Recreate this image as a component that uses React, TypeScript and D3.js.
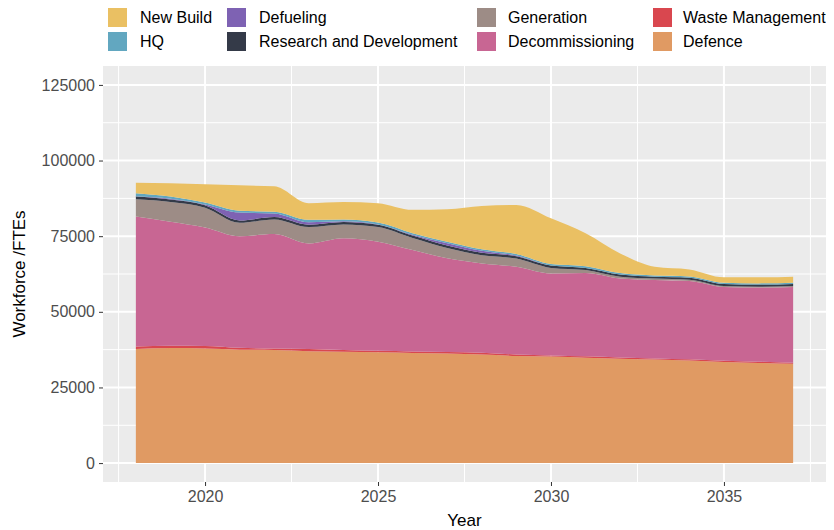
import * as d3 from 'd3';
import { useEffect, useRef } from 'react';

const years = [
  2018, 2019, 2020, 2021, 2022, 2023, 2024, 2025, 2026, 2027,
  2028, 2029, 2030, 2031, 2032, 2033, 2034, 2035, 2036, 2037,
];

// values in FTEs
const defence = [
  37700, 38000, 37900, 37500, 37400, 37000, 36800, 36600, 36400, 36200,
  35900, 35400, 35200, 34800, 34500, 34200, 33900, 33400, 33100, 32800,
];
const wasteManagement = [
  800, 800, 800, 600, 500, 700, 600, 500, 500, 500,
  600, 500, 400, 500, 400, 400, 400, 400, 400, 400,
];
const decommissioning = [
  43000, 41000, 39200, 36900, 37800, 34900, 36900, 36100, 33500, 31000,
  29500, 29000, 27100, 27500, 26100, 25900, 25900, 24400, 24500, 25000,
];
const generation = [
  5700, 6500, 6500, 4400, 4800, 5400, 4600, 4800, 4000, 3400,
  2700, 2700, 1800, 1000, 600, 500, 400, 300, 300, 300,
];
const researchDev = [
  900, 800, 800, 800, 800, 800, 800, 800, 800, 800,
  800, 800, 800, 700, 700, 600, 700, 700, 700, 700,
];
const defueling = [
  100, 300, 300, 2600, 1200, 800, 200, 100, 300, 800,
  700, 200, 0, 0, 0, 0, 0, 0, 0, 0,
];
const hq = [
  1000, 700, 600, 600, 600, 800, 600, 600, 500, 500,
  500, 500, 500, 600, 500, 400, 400, 400, 400, 400,
];
const newBuild = [
  3500, 4400, 6100, 8400, 8400, 5500, 5800, 6400, 7700, 10700,
  14300, 16200, 15100, 10900, 6500, 2900, 2300, 1800, 2000, 2000,
];

const seriesNames = [
  'Defence',
  'Waste Management',
  'Decommissioning',
  'Generation',
  'Research and Development',
  'Defueling',
  'HQ',
  'New Build',
];
const seriesValues = [
  defence, wasteManagement, decommissioning, generation,
  researchDev, defueling, hq, newBuild,
];
const seriesColors = [
  '#E09A63', '#D9474F', '#C86693', '#9D8C86',
  '#343A48', '#7E62B3', '#62A7C0', '#EAC063',
];

const yTicks = [0, 25000, 50000, 75000, 100000, 125000];
const xTicks = [2020, 2025, 2030, 2035];

// legend: columns of two, top of stack first
const legendOrder = [
  'New Build', 'HQ', 'Defueling', 'Research and Development',
  'Generation', 'Decommissioning', 'Waste Management', 'Defence',
];

const dims = {
  width: 834,
  height: 530,
  left: 103,
  right: 826,
  top: 66,
  bottom: 482,
};

export default function App() {
  const svgRef = useRef(null);

  useEffect(() => {
    const svg = d3.select(svgRef.current);
    svg.selectAll('*').remove();

    const font = 'Liberation Sans, Arial, Helvetica, sans-serif';

    const xScale = d3
      .scaleLinear()
      .domain([2018 - 0.95, 2037 + 0.95])
      .range([dims.left, dims.right]);

    const yScale = d3
      .scaleLinear()
      .domain([-6250, 131250])
      .range([dims.bottom, dims.top]);

    const table = years.map((yr, i) => {
      const row: any = { year: yr };
      seriesNames.forEach((name, j) => {
        row[name] = seriesValues[j][i];
      });
      return row;
    });

    const stacked = d3.stack().keys(seriesNames)(table);

    // panel
    svg
      .append('rect')
      .attr('x', dims.left)
      .attr('y', dims.top)
      .attr('width', dims.right - dims.left)
      .attr('height', dims.bottom - dims.top)
      .attr('fill', '#EBEBEB');

    const grid = svg.append('g');
    const minorY = d3.range(12500, 131250, 25000);
    const minorX = [2017.5, 2022.5, 2027.5, 2032.5, 2037.5];

    minorY.forEach((v) => {
      grid
        .append('line')
        .attr('x1', dims.left)
        .attr('x2', dims.right)
        .attr('y1', yScale(v))
        .attr('y2', yScale(v))
        .attr('stroke', '#FFFFFF')
        .attr('stroke-width', 1);
    });
    minorX.forEach((v) => {
      grid
        .append('line')
        .attr('x1', xScale(v))
        .attr('x2', xScale(v))
        .attr('y1', dims.top)
        .attr('y2', dims.bottom)
        .attr('stroke', '#FFFFFF')
        .attr('stroke-width', 1);
    });
    yTicks.forEach((v) => {
      grid
        .append('line')
        .attr('x1', dims.left)
        .attr('x2', dims.right)
        .attr('y1', yScale(v))
        .attr('y2', yScale(v))
        .attr('stroke', '#FFFFFF')
        .attr('stroke-width', 2);
    });
    xTicks.forEach((v) => {
      grid
        .append('line')
        .attr('x1', xScale(v))
        .attr('x2', xScale(v))
        .attr('y1', dims.top)
        .attr('y2', dims.bottom)
        .attr('stroke', '#FFFFFF')
        .attr('stroke-width', 2);
    });

    const area = d3
      .area<any>()
      .x((d) => xScale(d.data.year))
      .y0((d) => yScale(d[0]))
      .y1((d) => yScale(d[1]))
      .curve(d3.curveMonotoneX);

    svg
      .append('g')
      .selectAll('path')
      .data(stacked)
      .enter()
      .append('path')
      .attr('d', area as any)
      .attr('fill', (_d, i) => seriesColors[i]);

    // y axis
    const yAxis = svg
      .append('g')
      .attr('transform', 'translate(' + dims.left + ',0)')
      .call(
        d3.axisLeft(yScale).tickValues(yTicks).tickFormat(d3.format('d')).tickSize(4).tickPadding(4)
      );
    yAxis.select('.domain').remove();
    yAxis.selectAll('line').attr('stroke', '#333333');
    yAxis
      .selectAll('text')
      .attr('fill', '#4D4D4D')
      .style('font-family', font)
      .style('font-size', '16px');

    // x axis
    const xAxis = svg
      .append('g')
      .attr('transform', 'translate(0,' + dims.bottom + ')')
      .call(
        d3.axisBottom(xScale).tickValues(xTicks).tickFormat(d3.format('d')).tickSize(4).tickPadding(5)
      );
    xAxis.select('.domain').remove();
    xAxis.selectAll('line').attr('stroke', '#333333');
    xAxis
      .selectAll('text')
      .attr('fill', '#4D4D4D')
      .style('font-family', font)
      .style('font-size', '16px');

    // axis titles
    svg
      .append('text')
      .attr('x', (dims.left + dims.right) / 2)
      .attr('y', 526)
      .attr('text-anchor', 'middle')
      .style('font-family', font)
      .style('font-size', '17px')
      .text('Year');

    svg
      .append('text')
      .attr('text-anchor', 'middle')
      .attr(
        'transform',
        'translate(25,' + (dims.top + dims.bottom) / 2 + ')rotate(-90)'
      )
      .style('font-family', font)
      .style('font-size', '17px')
      .text('Workforce /FTEs');

    // legend
    const keyX = [108, 227, 477, 653];
    const labelX = [140, 259, 508, 683];
    const rowY = [8, 32];
    const legend = svg.append('g');
    legendOrder.forEach((name, k) => {
      const col = Math.floor(k / 2);
      const row = k % 2;
      const idx = seriesNames.indexOf(name);
      legend
        .append('rect')
        .attr('x', keyX[col])
        .attr('y', rowY[row])
        .attr('width', 19)
        .attr('height', 19)
        .attr('fill', seriesColors[idx]);
      legend
        .append('text')
        .attr('x', labelX[col])
        .attr('y', rowY[row] + 15)
        .style('font-family', font)
        .style('font-size', '16px')
        .text(name);
    });
  }, []);

  return (
    <div style={{ margin: -8 }}>
      <svg ref={svgRef} width={dims.width} height={dims.height}></svg>
    </div>
  );
}
